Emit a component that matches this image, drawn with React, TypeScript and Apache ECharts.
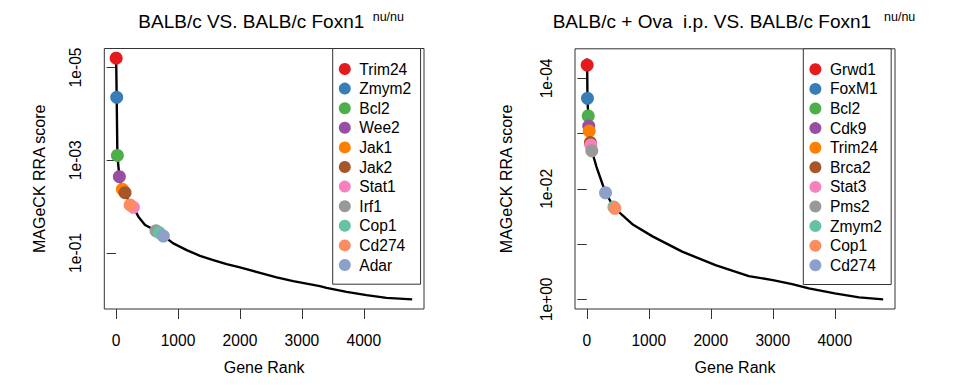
import React, { useEffect, useRef } from "react";
import * as echarts from "echarts";

const FONT = "'Liberation Sans', Arial, Helvetica, sans-serif";

// shared
const N_GENES = 4780;
const superscript = "nu/nu";
const yName = "MAGeCK RRA score";
const xName = "Gene Rank";
const xTicks = [0, 1000, 2000, 3000, 4000];

// left panel
const leftTitle = "BALB/c VS. BALB/c Foxn1";
const leftCurveRank = [1, 10, 21, 53, 102, 145, 226, 280, 360, 468, 645, 698, 763, 924, 1140, 1355, 1569, 1785, 2000, 2323, 2592, 2860, 3290, 3398, 3721, 4044, 4366, 4780];
const leftCurveScore = [6.3e-6, 4.4e-5, 7.9e-4, 2.26e-3, 4.23e-3, 5.0e-3, 9.2e-3, 1.035e-2, 1.65e-2, 2.49e-2, 3.32e-2, 3.66e-2, 4.32e-2, 0.0621, 0.0865, 0.115, 0.142, 0.174, 0.205, 0.268, 0.337, 0.405, 0.519, 0.565, 0.689, 0.811, 0.929, 1.0];
const leftGenes = ["Trim24", "Zmym2", "Bcl2", "Wee2", "Jak1", "Jak2", "Stat1", "Irf1", "Cop1", "Cd274", "Adar"];
const leftGeneRank = [1, 10, 21, 53, 102, 145, 280, 645, 698, 226, 763];
const leftGeneScore = [6.3e-6, 4.4e-5, 7.9e-4, 2.26e-3, 4.23e-3, 5.0e-3, 1.035e-2, 3.32e-2, 3.66e-2, 9.2e-3, 4.32e-2];
const leftColors = ["#E41A1C", "#377EB8", "#4DAF4A", "#984EA3", "#FF7F00", "#A65628", "#F781BF", "#999999", "#66C2A5", "#FC8D62", "#8DA0CB"];
const leftYTicks = [1e-5, 1e-3, 1e-1];
const leftYLabels = [1e-5, 1e-3, 1e-1];

// right panel
const rightTitle = "BALB/c + Ova  i.p. VS. BALB/c Foxn1";
const rightCurveRank = [1, 6, 11, 23, 32, 39, 58, 65, 81, 156, 302, 437, 452, 748, 1060, 1539, 2076, 2613, 3000, 3313, 3581, 4000, 4392, 4780];
const rightCurveScore = [4.35e-5, 5.73e-5, 2.29e-4, 4.79e-4, 7.29e-4, 8.97e-4, 1.45e-3, 1.61e-3, 2.04e-3, 3.98e-3, 1.175e-2, 2.13e-2, 2.25e-2, 4.47e-2, 0.0724, 0.137, 0.24, 0.38, 0.448, 0.53, 0.634, 0.778, 0.92, 1.0];
const rightGenes = ["Grwd1", "FoxM1", "Bcl2", "Cdk9", "Trim24", "Brca2", "Stat3", "Pms2", "Zmym2", "Cop1", "Cd274"];
const rightGeneRank = [6, 11, 23, 32, 39, 58, 65, 81, 437, 452, 302];
const rightGeneScore = [5.73e-5, 2.29e-4, 4.79e-4, 7.29e-4, 8.97e-4, 1.45e-3, 1.61e-3, 2.04e-3, 2.13e-2, 2.25e-2, 1.175e-2];
const rightColors = ["#E41A1C", "#377EB8", "#4DAF4A", "#984EA3", "#FF7F00", "#A65628", "#F781BF", "#999999", "#66C2A5", "#FC8D62", "#8DA0CB"];
const rightYTicks = [1e-4, 1e-3, 1e-2, 1e-1, 1];
const rightYLabels = [1e-4, 1e-2, 1];

const sciFormat = (v: number) => {
  const e = Math.round(Math.log10(v));
  return `1e${e < 0 ? "-" : "+"}${String(Math.abs(e)).padStart(2, "0")}`;
};

const logExtent = (vals: number[]) => {
  const lo = Math.log10(Math.min(...vals));
  const hi = Math.log10(Math.max(...vals));
  const pad = (hi - lo) * 0.04;
  return [Math.pow(10, lo - pad), Math.pow(10, hi + pad)];
};

const xPad = (N_GENES - 1) * 0.04;

const textBase = { fontFamily: FONT, color: "#000" };

function panel(
  idx: number,
  grid: any,
  curveRank: number[],
  curveScore: number[],
  genes: string[],
  geneRank: number[],
  geneScore: number[],
  colors: string[],
  yTicks: number[],
  yLabels: number[],
  nameGap: number,
  legendLeft: number
) {
  const [yMin, yMax] = logExtent(curveScore);
  const xAxis = {
    type: "value",
    gridIndex: idx,
    min: 1 - xPad,
    max: N_GENES + xPad,
    axisLine: { show: false },
    splitLine: { show: false },
    axisTick: { show: true, length: 10, customValues: xTicks, lineStyle: { color: "#333", width: 1 } },
    axisLabel: { customValues: xTicks, margin: 23.5, fontSize: 15.6, formatter: (v: number) => String(v), ...textBase },
    name: xName,
    nameLocation: "middle",
    nameGap: 50,
    nameTextStyle: { fontSize: 16, ...textBase },
  };
  const yAxis = {
    type: "log",
    logBase: 10,
    gridIndex: idx,
    inverse: true,
    min: yMin,
    max: yMax,
    axisLine: { show: false },
    splitLine: { show: false },
    minorTick: { show: false },
    axisTick: { show: true, length: 9.5, customValues: yTicks, lineStyle: { color: "#333", width: 1 } },
    axisLabel: { customValues: yLabels, rotate: 90, margin: 20.5, fontSize: 15.6, formatter: sciFormat, ...textBase },
    name: yName,
    nameLocation: "middle",
    nameGap,
    nameTextStyle: { fontSize: 16, ...textBase },
  };
  const series: any[] = [
    {
      type: "line",
      xAxisIndex: idx,
      yAxisIndex: idx,
      data: curveRank.map((r, i) => [r, curveScore[i]]),
      symbol: "none",
      lineStyle: { color: "#000", width: 2.4, join: "round" },
      silent: true,
      z: 2,
    },
    ...genes.map((g, i) => ({
      type: "scatter",
      name: g,
      xAxisIndex: idx,
      yAxisIndex: idx,
      data: [[geneRank[i], geneScore[i]]],
      symbol: "circle",
      symbolSize: 13,
      itemStyle: { color: colors[i], opacity: 1 },
      z: 3 + i * 0.01,
      silent: true,
    })),
  ];
  const legend = {
    orient: "vertical",
    left: legendLeft,
    top: grid.top,
    data: genes.map((g, i) => ({ name: g, itemStyle: { color: colors[i] } })),
    icon: "circle",
    itemWidth: 19,
    itemHeight: 12,
    itemGap: 0,
    padding: [10.7, 9.3, 9.4, 6.1],
    borderColor: "#333",
    borderWidth: 1,
    backgroundColor: "#fff",
    selectedMode: false,
    textStyle: { fontSize: 15.6, lineHeight: 19.6, ...textBase },
  };
  return { xAxis, yAxis, series, legend };
}

export default function App() {
  const ref = useRef<HTMLDivElement>(null);
  useEffect(() => {
    document.body.style.margin = "0";
    if (!ref.current) return;
    const chart = echarts.init(ref.current, null, { renderer: "svg" });
    const gridL = { left: 104.3, top: 48.5, width: 319.7, height: 260.5, show: true, borderColor: "#333", borderWidth: 1 };
    const gridR = { left: 575, top: 48.8, width: 320, height: 260.2, show: true, borderColor: "#333", borderWidth: 1 };
    const L = panel(0, gridL, leftCurveRank, leftCurveScore, leftGenes, leftGeneRank, leftGeneScore, leftColors, leftYTicks, leftYLabels, 57, 332.7);
    const R = panel(1, gridR, rightCurveRank, rightCurveScore, rightGenes, rightGeneRank, rightGeneScore, rightColors, rightYTicks, rightYLabels, 61, 803.3);
    const titleStyle = (size: number) => ({ fontSize: size, fontWeight: "normal", ...textBase });
    chart.setOption({
      animation: false,
      backgroundColor: "#fff",
      title: [
        { text: leftTitle, left: 138.3, top: 11.6, padding: 0, textStyle: titleStyle(19) },
        { text: superscript, left: 372.7, top: 10.4, padding: 0, textStyle: titleStyle(12.5) },
        { text: rightTitle, left: 552.7, top: 11.6, padding: 0, textStyle: titleStyle(19) },
        { text: superscript, left: 884, top: 10.4, padding: 0, textStyle: titleStyle(12.5) },
      ],
      grid: [gridL, gridR],
      xAxis: [L.xAxis, R.xAxis],
      yAxis: [L.yAxis, R.yAxis],
      legend: [L.legend, R.legend],
      series: [...L.series, ...R.series],
    });
    return () => chart.dispose();
  }, []);
  return <div ref={ref} style={{ width: 953, height: 387 }} />;
}
